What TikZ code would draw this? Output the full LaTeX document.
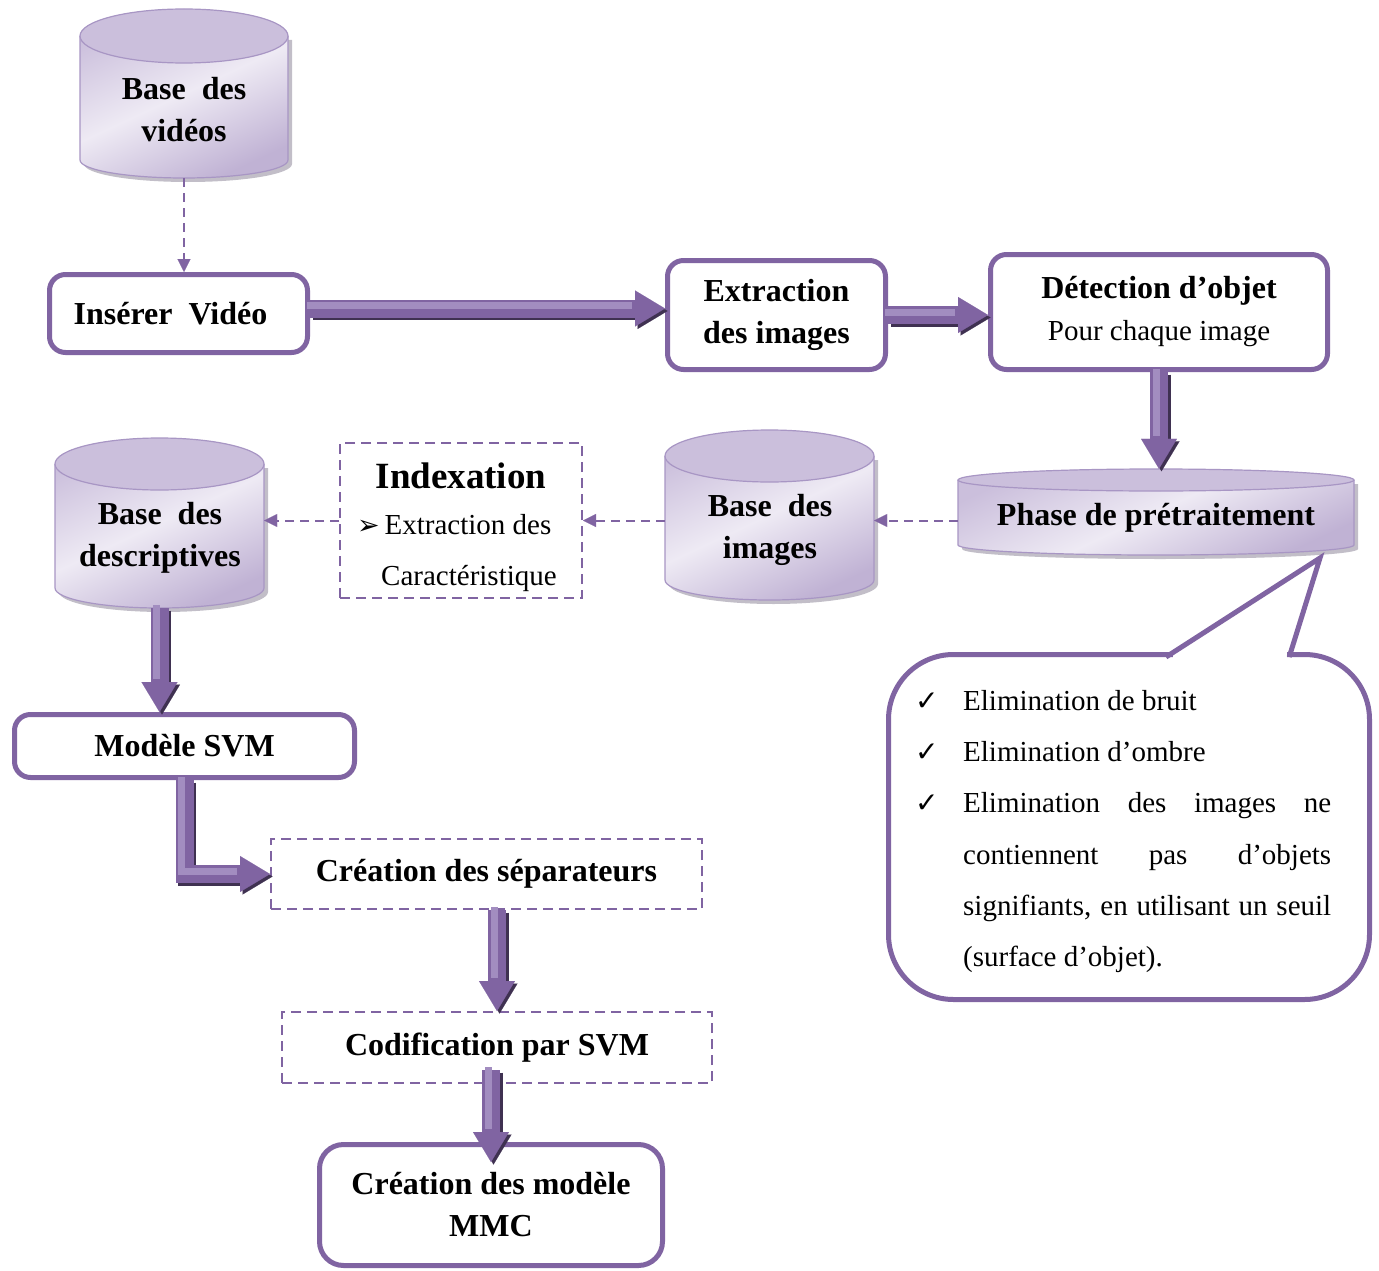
\documentclass[tikz,border=0pt]{standalone}
\usepackage{fontspec}
\setmainfont{Liberation Serif}
\newfontfamily\symfont{DejaVu Sans}
\usetikzlibrary{arrows.meta,calc}

\definecolor{purp}{HTML}{8064A2}
\definecolor{purpdark}{HTML}{3F3151}
\definecolor{purplight}{HTML}{A28DC0}
\definecolor{cylTop}{HTML}{CBBFDC}
\definecolor{cylLight}{HTML}{EEEAF4}
\definecolor{cylDark}{HTML}{C0B2D4}
\definecolor{cylEdge}{HTML}{A896C4}
\definecolor{shadowgray}{HTML}{9A94A4}

\tikzset{
  btxt/.style={font=\fontsize{32}{42}\selectfont\bfseries, align=center, inner sep=0pt},
  rtxt/.style={font=\fontsize{29}{42}\selectfont, inner sep=0pt},
  solidbox/.style={draw=purp, line width=5pt, rounded corners=16pt, fill=white},
  dashbox/.style={draw=purp, line width=2pt, dash pattern=on 10pt off 6pt, fill=white},
  ghost/.style={inner sep=0pt, draw=none},
  dcon/.style={draw=purp, line width=2pt, dash pattern=on 9pt off 6pt,
    -{Triangle[length=13pt,width=13pt,line width=0.1pt]}},
  fatmain/.style={draw=purp, line width=18pt,
    -{Triangle[length=30pt,width=36pt,line width=0.1pt]}},
  fatshadow/.style={draw=purpdark, line width=18pt,
    -{Triangle[length=30pt,width=36pt,line width=0.1pt]}},
  fathi/.style={draw=purplight, line width=7pt, shorten >=30pt},
}

% database can: name, left x, right x, top centre y, bottom centre y, top ry, bottom ry
\newcommand\dbcan[7]{%
  \pgfmathsetmacro\canrx{(#3-#2)/2}%
  \pgfmathsetmacro\cancx{(#3+#2)/2}%
  \pgfmathsetmacro\canw{#3-#2}%
  \pgfmathsetmacro\canh{#5+#7-#4+#6}%
  \pgfmathsetmacro\cancy{(#4-#6+#5+#7)/2}%
  \fill[shadowgray, opacity=.6] (#2+4,#4+4) -- (#2+4,#5+4)
    arc[start angle=180, end angle=0, x radius=\canrx, y radius=#7] -- (#3+4,#4+4) -- cycle;
  \shade[top color=cylTop, bottom color=cylDark, middle color=cylLight, shading angle=25]
    (#2,#4) -- (#2,#5) arc[start angle=180, end angle=0, x radius=\canrx, y radius=#7]
    -- (#3,#4) arc[start angle=0, end angle=-180, x radius=\canrx, y radius=#6] -- cycle;
  \draw[cylEdge, line width=1.2pt] (#2,#4) -- (#2,#5)
    arc[start angle=180, end angle=0, x radius=\canrx, y radius=#7] -- (#3,#4);
  \filldraw[fill=cylTop, draw=cylEdge, line width=1.2pt] (\cancx,#4) ellipse[x radius=\canrx, y radius=#6];
  \node[ghost, minimum width=\canw pt, minimum height=\canh pt] (#1) at (\cancx,\cancy) {};
}

% thick shaded arrow: shadow, body, highlight
\newcommand\fat[1]{%
  \draw[fatshadow, transform canvas={shift={(2.5pt,-2.5pt)}}] #1;
  \draw[fatmain] #1;
  \draw[fathi, transform canvas={shift={(-3pt,3pt)}}] #1;
}

\newcommand\tick{\makebox[48pt][l]{\symfont\fontsize{28}{28}\selectfont ✓}}

\begin{document}
\begin{tikzpicture}[x=1pt, y=-1pt]
\useasboundingbox (0,0) rectangle (1379,1271);
\fill[white] (0,0) rectangle (1379,1271);

% data stores
\dbcan{bv}{80}{288}{36}{160}{27}{18}
\dbcan{bi}{665}{874}{456}{580}{26}{20}
\dbcan{bd}{55}{264}{464}{588}{26}{20}
\dbcan{ph}{958}{1354}{480}{545}{11}{10}

\node[btxt] (bvt) at (184,110) {Base\ \ des\\vidéos};
\node[btxt] (bit) at (770,530) {Base\ \ des\\images};
\node[btxt] (bdt) at (160,538) {Base\ \ des\\descriptives};
\node[btxt] (pht) at (1156,518) {Phase de prétraitement};

% process boxes
\node[solidbox, btxt, minimum width=258pt, minimum height=78pt] (ins) at (178.5,313.5) {Insérer\ \ Vidéo\hspace*{16pt}};
\node[solidbox, btxt, minimum width=218pt, minimum height=109pt] (ext) at (776.5,315) {Extraction\\des images};
\node[solidbox, btxt, minimum width=337pt, minimum height=115pt] (det) at (1159,312)
  {Détection d’objet\\{\mdseries\fontsize{29}{42}\selectfont Pour chaque image}};
\node[solidbox, btxt, minimum width=340pt, minimum height=63pt] (svm) at (184.5,746) {Modèle SVM};
\node[solidbox, btxt, rounded corners=24pt, minimum width=343pt, minimum height=121pt] (mmc) at (491,1205)
  {Création des modèle\\MMC};
\node[dashbox, btxt, minimum width=431pt, minimum height=70pt] (sep) at (486.5,874) {Création des séparateurs};
\node[dashbox, btxt, minimum width=430pt, minimum height=71pt] (cod) at (497,1047.5) {Codification par SVM};

% indexing step
\node[dashbox, minimum width=242pt, minimum height=155pt] (idx) at (461,520.5) {};
\node[inner sep=0pt, font=\fontsize{37}{40}\selectfont\bfseries] (idxT) at (461,476) {Indexation};
\node[rtxt, anchor=base west] (idxA) at (357,534) {{\symfont\fontsize{27}{27}\selectfont ➢}\,Extraction des};
\node[rtxt, anchor=base west] (idxB) at (381,585) {Caractéristique};

% callout with the pre-processing details
\node[draw=purp, line width=5pt, rounded corners=65pt, fill=white,
      minimum width=481pt, minimum height=345pt] (call) at (1129,827) {};
\coordinate (ctip) at (1320,558);
\fill[white] (1173,650) rectangle (1287,658);
\draw[purp, line width=5pt, line join=miter] ($(call.north)+(37,5)$) -- (ctip) -- ($(call.north)+(160.2,5)$);
\node[anchor=north west, inner sep=0pt, align=left, font=\fontsize{29}{51.3}\selectfont] (calltxt) at (915,690) {%
  \tick Elimination de bruit\\
  \tick Elimination d’ombre\\
  \tick\makebox[368pt][s]{Elimination des images ne}\\
  \hspace*{48pt}\makebox[368pt][s]{contiennent pas d’objets}\\
  \hspace*{48pt}\makebox[368pt][s]{signifiants, en utilisant un seuil}\\
  \hspace*{48pt}(surface d’objet).};

% dashed data flows
\draw[dcon] (bv.south) -- (bv.south |- ins.north);
\draw[dcon] (ph.west |- idx.east) -- (bi.east |- idx.east);
\draw[dcon] (bi.west |- idx.east) -- (idx.east);
\draw[dcon] (idx.west) -- (bd.east |- idx.west);

% main processing flow
\fat{([yshift=5pt]ins.east) -- ([yshift=5pt]ins.east -| ext.west)}
\fat{(ext.east) -- (ext.east -| det.west)}
\fat{(det.south) -- (det.south |- ph.north)}
\fat{(bd.south) -- (bd.south |- svm.north)}
\fat{(svm.south) |- (sep.west)}
\fat{(sep.south -| cod.north) -- (cod.north)}
\fat{([yshift=14pt]cod.south -| mmc.north) -- ([yshift=-20pt]mmc.north)}
\end{tikzpicture}
\end{document}
